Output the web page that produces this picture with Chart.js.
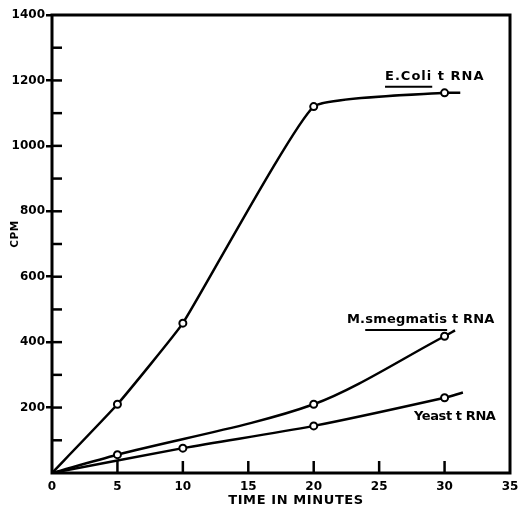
<!DOCTYPE html>
<html>
<head>
<meta charset="utf-8">
<script src="https://cdn.jsdelivr.net/npm/chart.js@4.4.1/dist/chart.umd.min.js"></script>
<style>
  body { margin: 0; background: #fff; }
  #wrap { width: 518px; height: 513px; position: relative; }
</style>
</head>
<body>
<div id="wrap"><canvas id="c"></canvas></div>
<script>
// values (minutes, cpm); last entry of each = where the drawn line stops
const ecoliX = [0, 5, 10, 20, 30, 31.2]
const ecoliY = [0, 210, 458, 1120, 1162, 1162]
const smegX = [0, 5, 20, 30, 30.8]
const smegY = [0, 56, 210, 418, 436]
const yeastX = [0, 10, 20, 30, 31.4]
const yeastY = [0, 76, 144, 230, 246]

const xTicks = [0, 5, 10, 15, 20, 25, 30, 35]
const yLabels = [200, 400, 600, 800, 1000, 1200, 1400]
const yMinor = [100, 200, 300, 400, 500, 600, 700, 800, 900, 1000, 1100, 1200, 1300]

const FONT = '"DejaVu Sans", sans-serif'

function pts(xs, ys){
    return xs.map((x, i) => ({x: x, y: ys[i]}))
}
function radii(n){
    // origin and the line end get no marker
    var r = []
    for(var i = 0; i < n; i++) r.push(i == 0 || i == n - 1 ? 0 : 3.5)
    return r
}

function series(label, xs, ys, tension){
    return {
        label: label,
        data: pts(xs, ys),
        showLine: true,
        borderColor: '#000',
        borderWidth: 2.5,
        pointRadius: radii(xs.length),
        pointBackgroundColor: '#fff',
        pointBorderColor: '#000',
        pointBorderWidth: 2,
        tension: tension,
    }
}

// text labels in data units
const notes = [
    {text: 'E.Coli t RNA', x: 25.45, y: 1211, under: 'E.Coli', pre: '', sp: 1},
    {text: 'M.smegmatis t RNA', x: 22.54, y: 468, under: 'smegmatis', pre: 'M.', sp: 0.2},
    {text: 'Yeast t RNA', x: 27.66, y: 171, under: null, sp: -0.4},
]

const decor = {
    id: 'decor',
    afterDraw(chart){
        const ctx = chart.ctx, a = chart.chartArea
        const xs = chart.scales.x, ys = chart.scales.y
        ctx.save()
        ctx.strokeStyle = '#000'
        ctx.lineWidth = 3
        ctx.strokeRect(a.left, a.top, a.right - a.left, a.bottom - a.top)

        ctx.lineWidth = 2.5
        yMinor.forEach(v => {
            const p = ys.getPixelForValue(v)
            ctx.beginPath(); ctx.moveTo(a.left, p); ctx.lineTo(a.left + 10, p); ctx.stroke()
        })
        xTicks.slice(1, -1).forEach(v => {
            const p = xs.getPixelForValue(v)
            ctx.beginPath(); ctx.moveTo(p, a.bottom); ctx.lineTo(p, a.bottom - 12); ctx.stroke()
        })

        ctx.fillStyle = '#000'
        ctx.font = 'bold 13px ' + FONT
        ctx.textBaseline = 'middle'
        ctx.textAlign = 'left'
        notes.forEach(n => {
            ctx.letterSpacing = n.sp + 'px'
            const px = xs.getPixelForValue(n.x), py = ys.getPixelForValue(n.y)
            ctx.fillText(n.text, px, py)
            if(n.under){
                const s = px + ctx.measureText(n.pre).width
                const w = ctx.measureText(n.under).width
                ctx.lineWidth = 2
                ctx.beginPath(); ctx.moveTo(s, py + 10); ctx.lineTo(s + w, py + 10); ctx.stroke()
            }
        })

        // axis titles
        ctx.font = 'bold 13px ' + FONT
        ctx.letterSpacing = '0.6px'
        ctx.textAlign = 'center'
        ctx.fillText('TIME IN MINUTES', 296, 501)
        ctx.font = 'bold 10.5px ' + FONT
        ctx.letterSpacing = '0.5px'
        ctx.translate(15, 234)
        ctx.rotate(-Math.PI / 2)
        ctx.fillText('CPM', 0, 0)
        ctx.restore()
    }
}

new Chart(document.getElementById('c'), {
    type: 'scatter',
    data: {
        datasets: [
            series('E. Coli t RNA', ecoliX, ecoliY, 0.12),
            series('M. smegmatis t RNA', smegX, smegY, 0.3),
            series('Yeast t RNA', yeastX, yeastY, 0.3),
        ]
    },
    options: {
        responsive: true,
        maintainAspectRatio: false,
        animation: false,
        layout: {padding: {top: 15, right: 8, left: 0, bottom: 0}},
        plugins: {legend: {display: false}, tooltip: {enabled: false}},
        scales: {
            x: {
                type: 'linear', min: 0, max: 35,
                afterFit: s => { s.height = 40; s.paddingRight = 0; s.paddingLeft = 0 },
                afterBuildTicks: s => { s.ticks = xTicks.map(v => ({value: v})) },
                border: {display: false},
                grid: {display: false, drawTicks: false},
                ticks: {color: '#000', font: {family: FONT, weight: 'bold', size: 12}, padding: 7, maxRotation: 0,
                        callback: v => String(v)}
            },
            y: {
                type: 'linear', min: 0, max: 1400,
                afterFit: s => { s.width = 52 },
                afterBuildTicks: s => { s.ticks = yLabels.map(v => ({value: v})) },
                border: {display: false},
                grid: {drawOnChartArea: false, color: '#000', lineWidth: 2.5, tickLength: 6},
                ticks: {color: '#000', font: {family: FONT, weight: 'bold', size: 12}, padding: 1,
                        callback: v => String(v)}
            }
        }
    },
    plugins: [decor]
})
</script>
</body>
</html>
